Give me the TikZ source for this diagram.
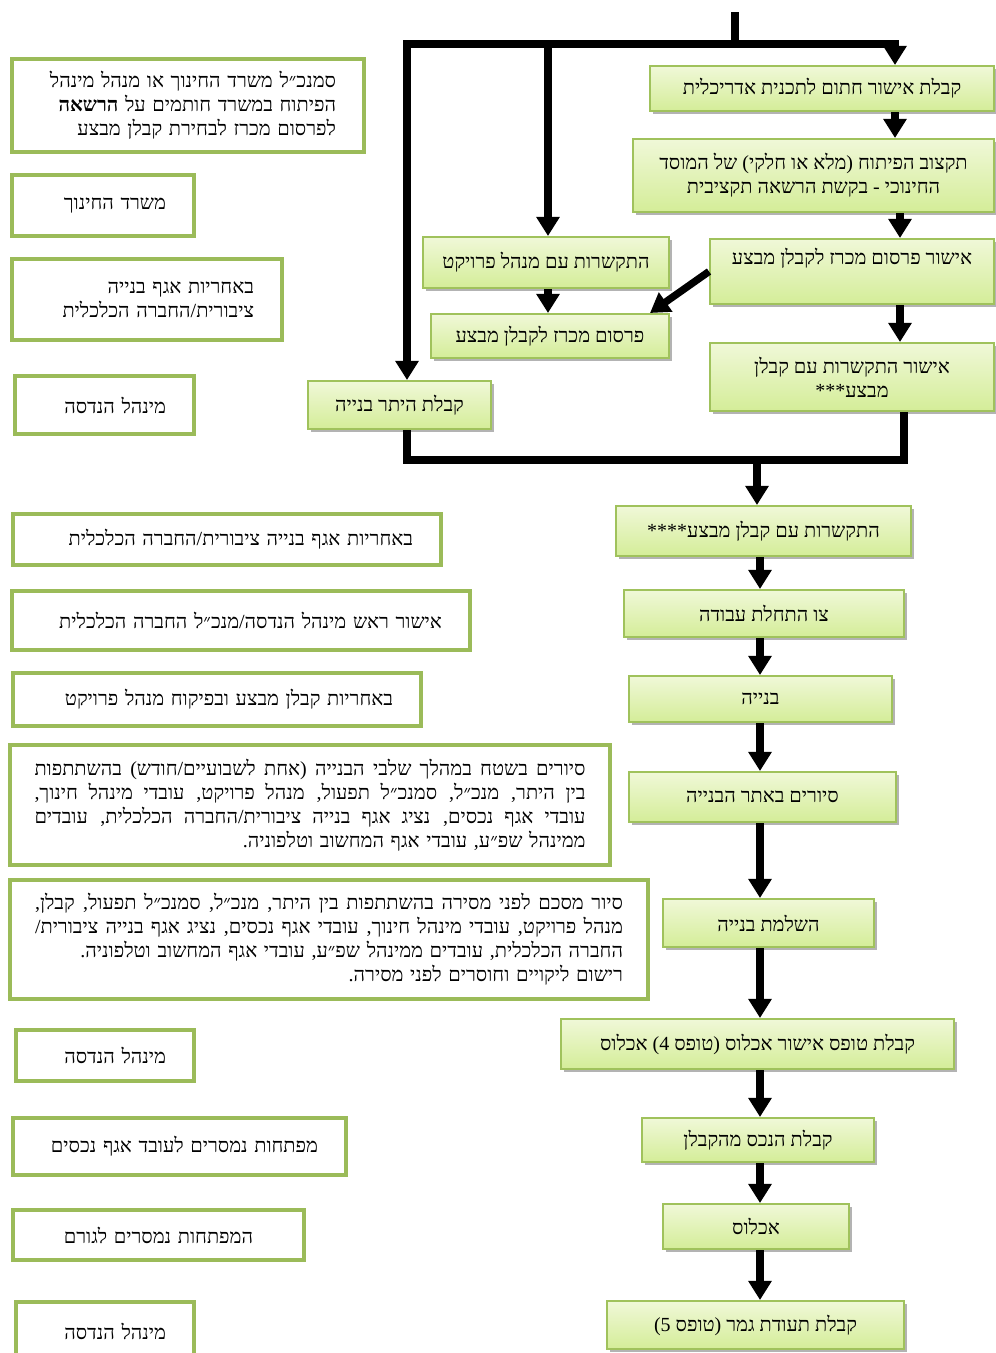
\documentclass[tikz,border=0pt]{standalone}
\usepackage{fontspec}
\usetikzlibrary{arrows.meta,shadows}
\TeXXeTstate=1
\newfontfamily\hebfont[Script=Hebrew]{Liberation Serif}
\newfontfamily\latfont{Liberation Serif}
\definecolor{notegreen}{RGB}{155,187,89}
\definecolor{flowedge}{RGB}{160,194,92}
\definecolor{flowtop}{RGB}{240,248,216}
\definecolor{flowbot}{RGB}{212,237,152}
\newcommand{\rl}[1]{\beginR #1\endR}
% justified right-to-left line, spaces stretch to the full width
\newcommand{\jline}[1]{\noindent\hbox to\hsize{\spaceskip=\fontdimen2\font plus 3\fontdimen2\font minus .3\fontdimen2\font\relax\beginR #1\endR}}

\begin{document}
\begin{tikzpicture}[x=0.6pt, y=-0.6pt,
    flow/.style={draw=flowedge, line width=1.2pt, top color=flowtop, bottom color=flowbot,
        drop shadow={shadow xshift=1.8pt, shadow yshift=-1.8pt, fill=black!50, opacity=0.6},
        anchor=north west, align=center, inner sep=2pt, font=\hebfont\fontsize{12}{14.4}\selectfont},
    note/.style={draw=notegreen, line width=2.4pt, fill=white, anchor=north west, align=right,
        inner xsep=16.8pt, inner ysep=2pt, font=\hebfont\fontsize{12}{14.4}\selectfont},
    boxsize/.style 2 args={minimum width=#1*0.6pt, minimum height=#2*0.6pt},
    notesize/.style 2 args={text width=#1*0.6pt, minimum height=#2*0.6pt},
    bar/.style={line width=4.4pt},
    arr/.style={line width=4.4pt, -{Triangle[width=13.5pt,length=11.5pt]}},
]
\useasboundingbox (0,0) rectangle (996,1353);

% right column, upper part
\node[flow, boxsize={344}{45}] (b1) at (649,65) {\rl{קבלת אישור חתום לתכנית אדריכלית}};
\node[flow, boxsize={361}{73}] (b2) at (632,138) {\rl{תקצוב הפיתוח (מלא או חלקי) של המוסד}\\\rl{החינוכי - בקשת הרשאה תקציבית}};
\node[flow, boxsize={284}{65}] (b3) at (709,238) {\rl{אישור פרסום מכרז לקבלן מבצע}\\\strut};
\node[flow, boxsize={284}{68}] (b4) at (709,342) {\rl{אישור התקשרות עם קבלן}\\\rl{מבצע***}};
\node[flow, boxsize={246}{51}] (m1) at (422,236) {\rl{התקשרות עם מנהל פרויקט}};
\node[flow, boxsize={238}{44}] (m2) at (430,313) {\rl{פרסום מכרז לקבלן מבצע}};
\node[flow, boxsize={183}{48}] (l1) at (307,380) {\rl{קבלת היתר בנייה}};

% right column, lower part
\node[flow, boxsize={295}{50}] (c1) at (615,505) {\rl{התקשרות עם קבלן מבצע****}};
\node[flow, boxsize={280}{47}] (c2) at (623,589) {\rl{צו התחלת עבודה}};
\node[flow, boxsize={263}{46}] (c3) at (628,675) {\rl{בנייה}};
\node[flow, boxsize={267}{50}] (c4) at (628,771) {\rl{סיורים באתר הבנייה}};
\node[flow, boxsize={211}{48}] (c5) at (662,898) {\rl{השלמת בנייה}};
\node[flow, boxsize={393}{50}] (c6) at (560,1018) {\rl{קבלת טופס אישור אכלוס (טופס {\latfont(4} אכלוס}};
\node[flow, boxsize={232}{44}] (c7) at (641,1117) {\rl{קבלת הנכס מהקבלן}};
\node[flow, boxsize={186}{45}] (c8) at (662,1203) {\rl{אכלוס}};
\node[flow, boxsize={297}{48}] (c9) at (606,1300) {\rl{קבלת תעודת גמר (טופס {\latfont(5}}};

% notes on the left
\node[note, notesize={296}{93}] (n1) at (10,57) {\rl{סמנכ״ל משרד החינוך או מנהל מינהל}\\\rl{הפיתוח במשרד חותמים על {\bfseries הרשאה}}\\\rl{לפרסום מכרז לבחירת קבלן מבצע}};
\node[note, notesize={126}{61}] (n2) at (10,173) {\rl{משרד החינוך}};
\node[note, notesize={214}{81}] (n3) at (10,257) {\rl{באחריות אגף בנייה}\\\rl{ציבורית/החברה הכלכלית}};
\node[note, notesize={123}{58}] (n4) at (13,374) {\rl{מינהל הנדסה}};
\node[note, notesize={372}{51}] (n5) at (11,512) {\rl{באחריות אגף בנייה ציבורית/החברה הכלכלית}};
\node[note, notesize={402}{59}] (n6) at (10,589) {\rl{אישור ראש מינהל הנדסה/מנכ״ל החברה הכלכלית}};
\node[note, notesize={352}{53}] (n7) at (11,671) {\rl{באחריות קבלן מבצע ובפיקוח מנהל פרויקט}};
\node[note, notesize={551}{120}, inner xsep=14.7pt] (n8) at (8,743) {\jline{סיורים בשטח במהלך שלבי הבנייה (אחת לשבועיים/חודש) בהשתתפות}\\\jline{בין היתר, מנכ״ל, סמנכ״ל תפעול, מנהל פרויקט, עובדי מינהל חינוך,}\\\jline{עובדי אגף נכסים, נציג אגף בנייה ציבורית/החברה הכלכלית, עובדים}\\\rl{ממינהל שפ״ע, עובדי אגף המחשוב וטלפוניה.}};
\node[note, notesize={588}{119}, inner xsep=15pt] (n9) at (8,878) {\jline{סיור מסכם לפני מסירה בהשתתפות בין היתר, מנכ״ל, סמנכ״ל תפעול, קבלן,}\\\jline{מנהל פרויקט, עובדי מינהל חינוך, עובדי אגף נכסים, נציג אגף בנייה ציבורית/}\\\rl{החברה הכלכלית, עובדים ממינהל שפ״ע, עובדי אגף המחשוב וטלפוניה.}\\\rl{רישום ליקויים וחוסרים לפני מסירה.}};
\node[note, notesize={122}{51}] (n10) at (14,1028) {\rl{מינהל הנדסה}};
\node[note, notesize={277}{57}] (n11) at (11,1116) {\rl{מפתחות נמסרים לעובד אגף נכסים}};
\node[note, notesize={235}{50}, align=center] (n12) at (11,1208) {\rl{המפתחות נמסרים לגורם}};
\node[note, notesize={122}{58}] (n13) at (14,1300) {\rl{מינהל הנדסה}};

% connectors
\coordinate (top) at (735,12);
\coordinate (fork) at (735,44);
\coordinate (forkL) at (407,44);
\coordinate (forkM) at (548,44);
\coordinate (forkR) at (895,44);
\coordinate (colR) at (900,0);
\coordinate (mergeL) at (407,460);
\coordinate (mergeM) at (757,460);
\coordinate (mergeR) at (904,460);
\coordinate (spine) at (760,0);

\draw[bar] (top) -- (fork);
\draw[arr] (forkR) -- (forkL) -- (forkL |- l1.north);
\draw[arr] (forkL) -- (forkR) -- (forkR |- b1.north);
\draw[arr] (forkM) -- (forkM |- m1.north);
\draw[arr] (b1.south -| forkR) -- (b2.north -| forkR);
\draw[arr] (b2.south -| colR) -- (b3.north -| colR);
\draw[arr] (b3.south -| colR) -- (b4.north -| colR);
\draw[arr] (m1.south -| forkM) -- (m2.north -| forkM);
\draw[arr] (b3.west) -- ([xshift=-12pt]m2.north east);
\draw[bar] (l1.south -| mergeL) -- (mergeL) -- (mergeR) -- (b4.south -| mergeR);
\draw[arr] (mergeM) -- (mergeM |- c1.north);
\foreach \u/\v in {c1/c2,c2/c3,c3/c4,c4/c5,c5/c6,c6/c7,c7/c8,c8/c9}
    \draw[arr] (\u.south -| spine) -- (\v.north -| spine);
\end{tikzpicture}
\end{document}
